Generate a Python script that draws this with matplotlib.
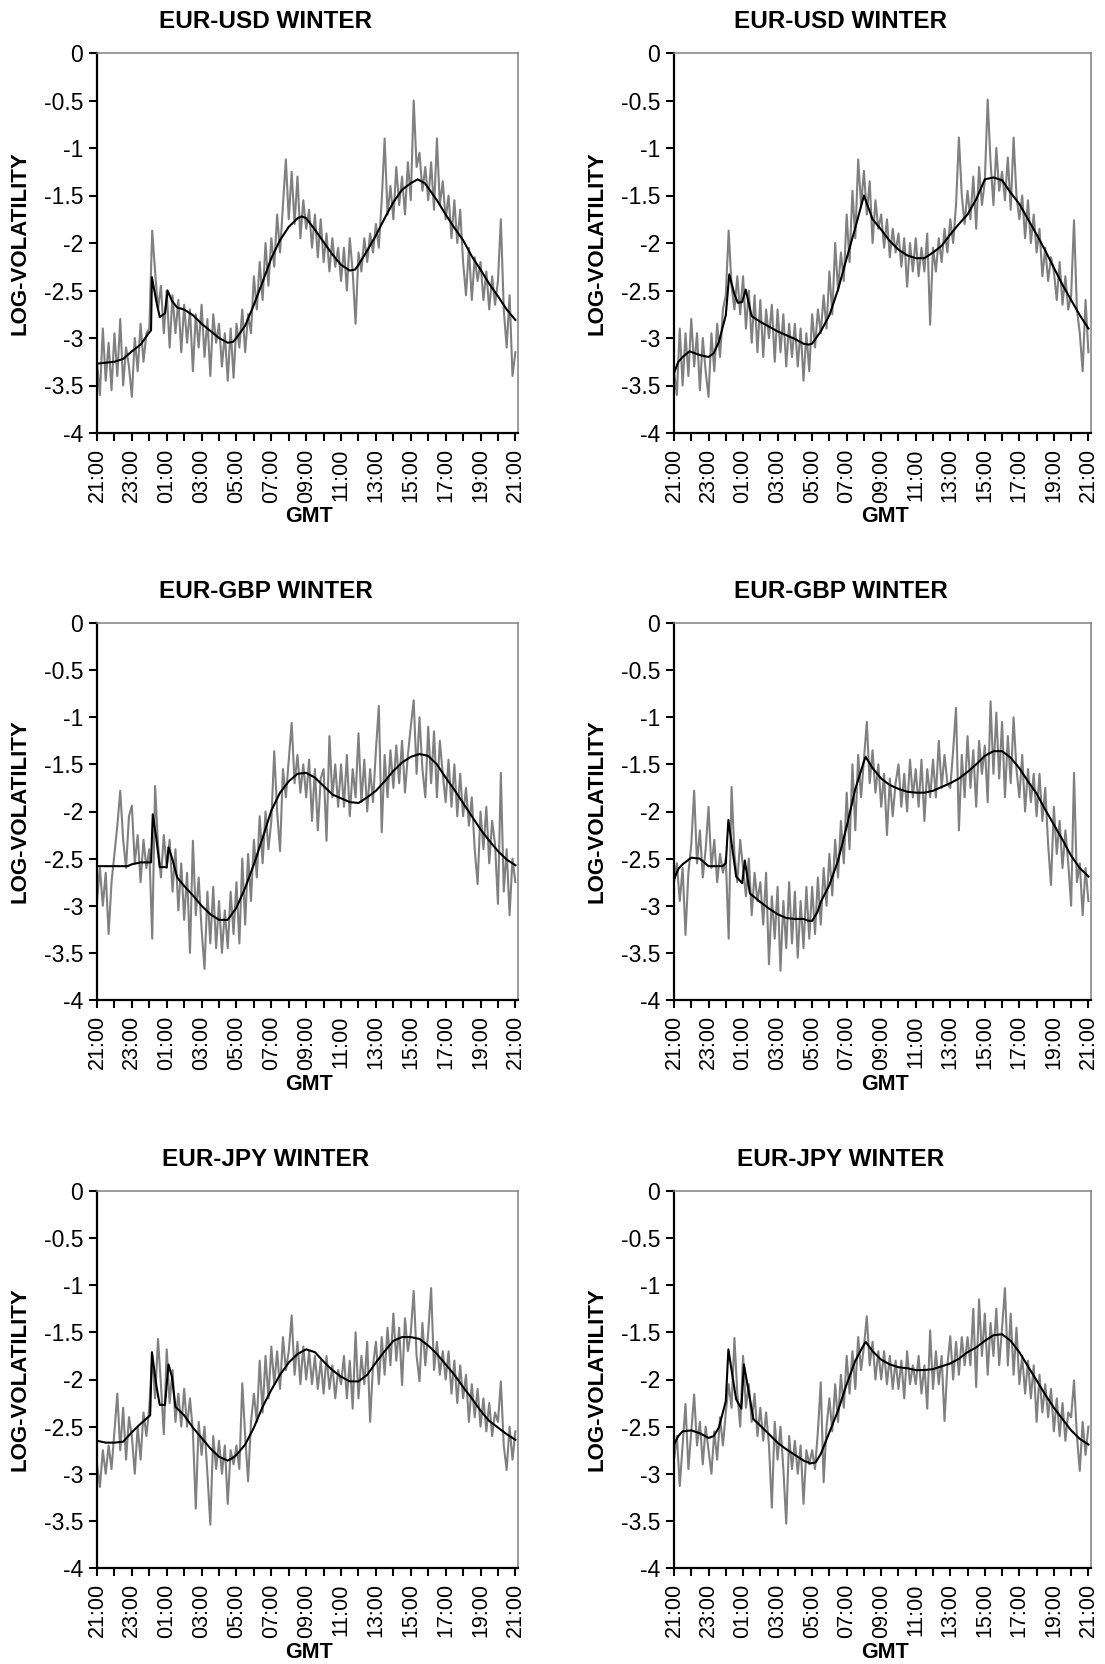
import numpy as np
import matplotlib
matplotlib.use("Agg")
import matplotlib.pyplot as plt

plt.rcParams["font.family"] = ["Liberation Sans", "DejaVu Sans"]
plt.rcParams["axes.unicode_minus"] = False

# hours after 21:00 GMT
TICK_HOURS = list(range(0, 25))
TICK_LABELS = ["21:00", "23:00", "01:00", "03:00", "05:00", "07:00", "09:00",
               "11:00", "13:00", "15:00", "17:00", "19:00", "21:00"]
Y_TICKS = [0, -0.5, -1, -1.5, -2, -2.5, -3, -3.5, -4]

TITLES = ["EUR-USD WINTER", "EUR-USD WINTER",
          "EUR-GBP WINTER", "EUR-GBP WINTER",
          "EUR-JPY WINTER", "EUR-JPY WINTER"]

# gray = raw 10-minute log-volatility (one row per hour), black = fitted curve

# ---- EUR-USD, left ----
USD_L_GRAY = [
    -3.25, -3.60, -2.90, -3.45, -3.05, -3.55,
    -2.95, -3.40, -2.80, -3.50, -3.10, -3.30,
    -3.62, -3.00, -3.35, -2.85, -3.25, -2.95,
    -2.90, -1.87, -2.30, -2.70, -2.45, -2.95,
    -2.50, -3.10, -2.55, -2.95, -2.60, -3.15,
    -2.65, -3.05, -2.70, -3.35, -2.75, -3.10,
    -2.65, -3.20, -2.80, -3.40, -2.75, -3.05,
    -2.85, -3.30, -2.95, -3.45, -2.90, -3.42,
    -2.85, -3.10, -2.70, -3.15, -2.75, -2.95,
    -2.35, -2.70, -2.20, -2.60, -2.00, -2.45,
    -1.95, -2.25, -1.70, -2.10, -1.60, -1.12,
    -1.75, -1.25, -1.80, -1.30, -1.95, -1.55,
    -1.85, -1.65, -2.05, -1.70, -2.15, -1.75,
    -2.20, -1.90, -2.30, -1.95, -2.25, -2.05,
    -2.40, -2.05, -2.50, -1.95, -2.30, -2.85,
    -2.10, -2.30, -1.95, -2.20, -1.90, -2.10,
    -1.80, -2.05, -1.55, -0.90, -1.70, -1.40,
    -1.75, -1.20, -1.60, -1.30, -1.70, -1.15,
    -1.55, -0.50, -1.20, -1.05, -1.45, -1.20,
    -1.55, -1.15, -1.65, -0.90, -1.60, -1.35,
    -1.75, -1.50, -1.95, -1.55, -2.00, -1.65,
    -2.20, -2.55, -2.05, -2.60, -2.15, -2.40,
    -2.20, -2.60, -2.30, -2.70, -2.35, -2.65,
    -2.40, -1.75, -2.70, -3.10, -2.55, -3.40,
    -3.15]
USD_L_FIT_H = [0, 0.5, 1, 1.5, 2, 2.5, 3, 3.1, 3.15, 3.4, 3.6, 3.9, 4.05, 4.3, 4.6, 5,
               5.5, 6, 7, 7.5, 7.8, 8, 8.5, 9, 9.5, 10, 10.5, 11, 11.5, 11.75, 12,
               12.5, 13, 13.5, 14, 14.5, 14.8, 15, 15.5, 16, 16.5, 17, 17.5, 18, 18.4,
               18.8, 19, 19.5, 20, 20.5, 21, 21.5, 22, 22.5, 23, 23.5, 24]
USD_L_FIT = [-3.27, -3.26, -3.25, -3.22, -3.14, -3.07, -2.94, -2.92, -2.36, -2.61,
             -2.78, -2.74, -2.50, -2.61, -2.68, -2.70, -2.76, -2.85, -3.00, -3.05,
             -3.04, -3.00, -2.87, -2.65, -2.41, -2.16, -1.97, -1.83, -1.74, -1.72,
             -1.74, -1.86, -1.99, -2.12, -2.23, -2.29, -2.28, -2.23, -2.08, -1.92,
             -1.74, -1.57, -1.44, -1.37, -1.33, -1.37, -1.42, -1.55, -1.70, -1.84,
             -1.97, -2.14, -2.28, -2.43, -2.56, -2.70, -2.81]

# ---- EUR-USD, right ----
USD_R_GRAY = [
    -3.35, -3.60, -2.90, -3.50, -2.95, -3.40,
    -2.80, -3.30, -2.95, -3.55, -3.00, -3.35,
    -3.62, -2.95, -3.35, -2.85, -3.20, -2.70,
    -2.55, -1.87, -2.45, -2.70, -2.35, -2.75,
    -2.35, -2.90, -2.50, -3.05, -2.55, -3.15,
    -2.60, -3.20, -2.70, -3.00, -2.65, -3.25,
    -2.70, -3.15, -2.75, -3.30, -2.85, -3.20,
    -2.85, -3.30, -2.90, -3.45, -2.95, -3.35,
    -2.75, -3.10, -2.70, -2.95, -2.55, -2.90,
    -2.30, -2.75, -2.00, -2.50, -2.10, -2.40,
    -1.70, -2.20, -1.45, -1.95, -1.12, -1.60,
    -1.24, -1.70, -1.35, -2.00, -1.55, -1.85,
    -1.70, -2.05, -1.75, -2.15, -1.85, -2.10,
    -1.90, -2.25, -1.95, -2.46, -2.00, -2.30,
    -1.95, -2.35, -2.05, -2.30, -1.90, -2.86,
    -2.05, -2.30, -1.95, -2.20, -1.85, -2.10,
    -1.75, -2.00, -1.60, -0.89, -1.50, -1.80,
    -1.45, -1.75, -1.30, -1.85, -1.20, -1.60,
    -1.35, -0.49, -1.15, -1.60, -1.00, -1.45,
    -1.25, -1.55, -1.10, -1.65, -0.89, -1.50,
    -1.75, -1.50, -1.95, -1.55, -2.00, -1.70,
    -2.10, -1.85, -2.35, -2.05, -2.40, -2.15,
    -2.30, -2.60, -2.20, -2.65, -2.35, -2.70,
    -2.55, -1.76, -2.70, -2.95, -3.35, -2.60,
    -3.15]
USD_R_FIT_H = [0, 0.25, 0.5, 0.9, 1.5, 2, 2.3, 2.6, 3, 3.2, 3.5, 3.7, 3.95, 4.15, 4.5,
               5, 6, 7, 7.5, 7.8, 8, 8.5, 9, 9.5, 10, 10.5, 11, 11.5, 12, 12.5, 13,
               13.5, 14, 14.5, 15, 15.5, 16, 16.5, 17, 17.5, 18, 18.5, 19, 19.5, 20,
               20.5, 21, 21.5, 22, 22.5, 23, 23.5, 24]
USD_R_FIT = [-3.37, -3.25, -3.20, -3.14, -3.18, -3.20, -3.16, -3.04, -2.76, -2.33,
             -2.54, -2.63, -2.62, -2.49, -2.77, -2.83, -2.93, -3.01, -3.06, -3.07,
             -3.06, -2.93, -2.76, -2.49, -2.16, -1.84, -1.50, -1.75, -1.86, -1.98,
             -2.07, -2.13, -2.16, -2.16, -2.10, -2.03, -1.91, -1.80, -1.70, -1.54,
             -1.33, -1.31, -1.34, -1.47, -1.59, -1.75, -1.91, -2.08, -2.26, -2.44,
             -2.60, -2.76, -2.90]

# ---- EUR-GBP, left ----
GBP_L_GRAY = [
    -2.95, -2.60, -3.00, -2.65, -3.30, -2.75,
    -2.45, -2.15, -1.78, -2.30, -2.60, -2.05,
    -1.94, -2.55, -2.25, -2.75, -2.30, -2.60,
    -2.40, -3.35, -1.73, -2.35, -2.70, -2.25,
    -2.60, -2.30, -2.85, -2.40, -3.05, -2.55,
    -3.15, -2.65, -3.50, -2.31, -3.10, -2.70,
    -3.25, -3.67, -2.85, -3.40, -2.80, -3.45,
    -2.95, -3.50, -3.05, -3.45, -2.85, -3.30,
    -2.75, -3.40, -2.50, -3.20, -2.45, -2.95,
    -2.30, -2.70, -2.05, -2.55, -2.00, -2.40,
    -2.10, -1.36, -2.00, -2.42, -1.55, -1.85,
    -1.45, -1.06, -1.70, -1.40, -1.80, -1.50,
    -1.85, -1.45, -2.10, -1.55, -2.20, -1.65,
    -1.55, -2.31, -1.20, -1.85, -1.50, -1.95,
    -1.50, -1.95, -1.40, -2.05, -1.55, -1.85,
    -1.17, -1.90, -1.45, -2.00, -1.55, -1.90,
    -1.35, -0.88, -2.22, -1.40, -1.85, -1.35,
    -1.75, -1.30, -1.70, -1.25, -1.80, -1.40,
    -1.10, -0.82, -1.60, -1.00, -1.55, -1.85,
    -1.10, -1.70, -1.15, -1.85, -1.25, -1.60,
    -1.90, -1.45, -1.95, -1.50, -2.05, -1.60,
    -2.05, -1.75, -2.15, -1.85, -2.40, -2.77,
    -2.00, -2.40, -1.95, -2.55, -2.10, -2.35,
    -2.98, -1.59, -2.85, -2.40, -3.10, -2.50,
    -2.75]
GBP_L_FIT_H = [0, 1, 1.75, 2, 2.5, 3.1, 3.2, 3.4, 3.6, 4.0, 4.1, 4.3, 4.6, 5, 5.5, 6,
               6.5, 7, 7.5, 8, 8.5, 9, 9.5, 10, 10.5, 11, 11.5, 12, 12.5, 13, 13.5,
               14, 14.5, 15, 15.5, 16, 16.5, 17, 17.5, 18, 18.5, 19, 19.5, 20, 20.5,
               21, 21.5, 22, 22.5, 23, 23.5, 24]
GBP_L_FIT = [-2.58, -2.58, -2.58, -2.56, -2.54, -2.54, -2.03, -2.28, -2.59, -2.59,
             -2.38, -2.49, -2.70, -2.79, -2.89, -3.00, -3.09, -3.15, -3.15, -3.02,
             -2.81, -2.56, -2.28, -1.99, -1.80, -1.68, -1.60, -1.59, -1.64, -1.73,
             -1.82, -1.86, -1.90, -1.91, -1.85, -1.78, -1.68, -1.57, -1.48, -1.42,
             -1.39, -1.41, -1.50, -1.64, -1.77, -1.91, -2.05, -2.19, -2.31, -2.42,
             -2.51, -2.57]

# ---- EUR-GBP, right ----
GBP_R_GRAY = [
    -2.75, -2.55, -2.95, -2.60, -3.31, -2.65,
    -2.35, -1.78, -2.55, -2.20, -2.70, -2.40,
    -1.95, -2.60, -2.30, -2.75, -2.45, -2.65,
    -2.50, -3.35, -1.74, -2.45, -2.75, -2.30,
    -2.60, -2.90, -2.50, -3.10, -2.65, -2.95,
    -2.75, -3.20, -2.65, -3.62, -2.90, -3.35,
    -2.80, -3.69, -2.95, -3.45, -2.75, -3.40,
    -2.85, -3.55, -2.95, -3.45, -2.80, -3.35,
    -2.80, -3.30, -2.70, -3.20, -2.60, -3.00,
    -2.45, -2.89, -2.30, -2.70, -2.10, -2.55,
    -1.80, -2.40, -1.50, -2.20, -1.40, -1.85,
    -1.45, -1.05, -1.70, -1.35, -1.80, -1.50,
    -1.95, -1.60, -2.25, -1.65, -2.05, -1.70,
    -1.50, -1.95, -1.60, -2.00, -1.45, -1.85,
    -1.55, -1.95, -1.45, -2.10, -1.55, -1.85,
    -1.45, -1.85, -1.25, -1.75, -1.40, -1.70,
    -1.75, -1.35, -0.90, -2.20, -1.40, -1.85,
    -1.20, -1.75, -1.35, -1.95, -1.25, -1.60,
    -1.30, -1.90, -0.83, -1.60, -0.95, -1.65,
    -1.05, -1.85, -1.20, -1.70, -1.00, -1.55,
    -1.85, -1.40, -2.00, -1.55, -1.90, -1.60,
    -2.05, -1.60, -2.10, -1.75, -2.35, -2.78,
    -1.95, -2.45, -2.10, -2.60, -2.20, -2.55,
    -3.00, -1.59, -2.75, -2.55, -3.10, -2.60,
    -2.95]
GBP_R_FIT_H = [0, 0.25, 0.5, 1, 1.5, 2, 2.5, 2.8, 3.0, 3.15, 3.6, 3.95, 4.1, 4.4, 5,
               5.5, 6, 6.5, 7, 7.5, 7.8, 8, 8.3, 8.5, 9, 9.5, 10, 10.5, 11, 11.1,
               11.5, 12, 12.5, 13, 13.5, 14, 14.5, 15, 15.5, 16, 16.5, 17, 17.5, 18,
               18.5, 19, 19.5, 20, 20.5, 21, 21.5, 22, 22.5, 23, 23.5, 24]
GBP_R_FIT = [-2.72, -2.61, -2.56, -2.49, -2.50, -2.58, -2.58, -2.58, -2.55, -2.09,
             -2.69, -2.76, -2.52, -2.87, -2.96, -3.03, -3.09, -3.13, -3.14, -3.14,
             -3.16, -3.16, -3.07, -2.96, -2.78, -2.52, -2.16, -1.76, -1.47, -1.42,
             -1.54, -1.65, -1.72, -1.76, -1.79, -1.80, -1.80, -1.78, -1.74, -1.70,
             -1.65, -1.58, -1.50, -1.41, -1.36, -1.36, -1.43, -1.54, -1.68, -1.81,
             -1.98, -2.14, -2.30, -2.47, -2.60, -2.69]

# ---- EUR-JPY, left ----
JPY_L_GRAY = [
    -2.90, -3.14, -2.75, -3.00, -2.70, -2.95,
    -2.55, -2.15, -2.75, -2.30, -2.85, -2.40,
    -2.60, -3.00, -2.50, -2.85, -2.35, -2.60,
    -2.30, -1.75, -2.20, -1.57, -2.05, -2.58,
    -1.68, -2.25, -1.90, -2.45, -2.15, -2.50,
    -2.10, -2.50, -2.20, -2.55, -3.37, -2.45,
    -2.80, -2.50, -3.00, -3.54, -2.60, -2.95,
    -2.65, -3.00, -2.70, -3.32, -2.75, -2.90,
    -2.70, -2.95, -2.04, -2.60, -3.08, -2.45,
    -2.15, -2.45, -1.80, -2.35, -1.75, -2.20,
    -1.65, -2.05, -1.70, -2.10, -1.55, -1.90,
    -1.70, -1.32, -1.95, -1.60, -2.05, -1.65,
    -2.00, -1.70, -2.05, -1.75, -2.10, -1.80,
    -2.15, -1.75, -2.10, -1.85, -2.20, -1.90,
    -2.05, -1.75, -2.20, -1.80, -2.31, -1.50,
    -2.20, -1.75, -2.05, -1.60, -2.45, -1.85,
    -1.60, -2.05, -1.55, -1.95, -1.45, -1.85,
    -1.30, -1.80, -1.45, -2.06, -1.35, -1.70,
    -1.50, -1.06, -1.75, -2.02, -1.40, -1.85,
    -1.50, -1.03, -1.90, -1.60, -1.95, -1.70,
    -2.00, -1.70, -2.15, -1.80, -2.25, -1.85,
    -2.20, -1.95, -2.45, -2.05, -2.40, -2.10,
    -2.50, -2.20, -2.55, -2.25, -2.60, -2.35,
    -2.45, -2.02, -2.70, -2.96, -2.50, -2.85,
    -2.55]
JPY_L_FIT_H = [0, 0.5, 1, 1.5, 2, 2.5, 3.05, 3.15, 3.4, 3.6, 3.9, 4.1, 4.3, 4.5, 5,
               5.5, 6, 6.5, 7, 7.5, 7.8, 8, 8.5, 9, 9.5, 10, 10.5, 11, 11.5, 12,
               12.5, 13, 13.5, 14, 14.5, 15, 15.5, 16, 16.5, 17, 17.5, 18, 18.5, 19,
               19.5, 20, 20.5, 21, 21.5, 22, 22.5, 23, 23.5, 24]
JPY_L_FIT = [-2.65, -2.67, -2.67, -2.66, -2.56, -2.47, -2.38, -1.71, -2.06, -2.27,
             -2.27, -1.84, -1.97, -2.29, -2.38, -2.51, -2.62, -2.73, -2.82, -2.86,
             -2.83, -2.80, -2.69, -2.51, -2.29, -2.11, -1.95, -1.82, -1.73, -1.68,
             -1.71, -1.81, -1.90, -1.97, -2.02, -2.02, -1.95, -1.82, -1.70, -1.59,
             -1.55, -1.55, -1.57, -1.64, -1.73, -1.84, -1.95, -2.08, -2.20, -2.33,
             -2.44, -2.51, -2.58, -2.64]

# ---- EUR-JPY, right ----
JPY_R_GRAY = [
    -2.85, -2.60, -3.13, -2.70, -2.26, -2.95,
    -2.55, -2.16, -2.70, -2.45, -2.90, -2.50,
    -2.75, -3.00, -2.55, -2.85, -2.40, -2.70,
    -2.35, -2.05, -2.30, -1.56, -2.15, -2.50,
    -1.75, -2.30, -2.05, -2.45, -2.15, -2.60,
    -2.30, -2.65, -2.35, -2.70, -3.36, -2.45,
    -2.85, -2.50, -2.95, -3.53, -2.60, -2.95,
    -2.65, -3.00, -2.70, -3.32, -2.75, -2.90,
    -2.75, -2.95, -2.55, -2.03, -3.09, -2.50,
    -2.20, -2.55, -2.05, -2.45, -1.95, -2.30,
    -1.75, -2.15, -1.70, -2.10, -1.55, -1.90,
    -1.65, -1.33, -1.85, -1.60, -2.00, -1.70,
    -2.00, -1.70, -2.05, -1.75, -2.10, -1.80,
    -2.10, -1.80, -2.20, -1.70, -2.05, -1.85,
    -2.05, -1.75, -2.15, -1.85, -2.31, -1.48,
    -2.10, -1.70, -2.05, -1.75, -2.44, -1.85,
    -1.54, -2.00, -1.60, -1.95, -1.55, -1.85,
    -1.55, -1.85, -1.25, -2.08, -1.15, -1.75,
    -1.30, -1.95, -1.40, -1.75, -1.25, -1.85,
    -1.45, -1.03, -1.85, -1.30, -1.95, -1.45,
    -2.05, -1.75, -2.15, -1.80, -2.20, -1.85,
    -2.45, -1.95, -2.35, -2.05, -2.40, -2.10,
    -2.55, -2.20, -2.60, -2.25, -2.65, -2.35,
    -2.40, -2.01, -2.60, -2.97, -2.45, -2.80,
    -2.50]
JPY_R_FIT_H = [0, 0.25, 0.5, 1, 1.5, 2, 2.3, 2.6, 3, 3.15, 3.4, 3.6, 3.9, 4.05, 4.6, 5,
               5.5, 6, 6.5, 7, 7.5, 7.9, 8.2, 8.5, 9, 9.5, 10, 10.5, 11, 11.1, 11.5,
               12, 12.5, 13, 13.5, 14, 14.5, 15, 15.5, 16, 16.5, 17, 17.5, 18, 18.5,
               19, 19.5, 20, 20.5, 21, 21.5, 22, 22.5, 23, 23.5, 24]
JPY_R_FIT = [-2.69, -2.60, -2.55, -2.54, -2.57, -2.62, -2.60, -2.51, -2.23, -1.68,
             -1.98, -2.21, -2.31, -1.84, -2.42, -2.49, -2.58, -2.67, -2.74, -2.80,
             -2.86, -2.89, -2.88, -2.79, -2.56, -2.33, -2.05, -1.80, -1.63, -1.60,
             -1.70, -1.79, -1.84, -1.87, -1.88, -1.90, -1.90, -1.89, -1.86, -1.83,
             -1.78, -1.71, -1.66, -1.59, -1.53, -1.52, -1.59, -1.71, -1.86, -2.01,
             -2.16, -2.30, -2.42, -2.54, -2.63, -2.69]

GRAYS = [USD_L_GRAY, USD_R_GRAY, GBP_L_GRAY, GBP_R_GRAY, JPY_L_GRAY, JPY_R_GRAY]
FITS = [(USD_L_FIT_H, USD_L_FIT), (USD_R_FIT_H, USD_R_FIT),
        (GBP_L_FIT_H, GBP_L_FIT), (GBP_R_FIT_H, GBP_R_FIT),
        (JPY_L_FIT_H, JPY_L_FIT), (JPY_R_FIT_H, JPY_R_FIT)]

W, H = 1105, 1664
# axes boxes in pixels
COL_X = [(97, 518), (674, 1091)]
ROW_Y = [(53, 433), (623, 1000), (1191, 1568)]


def main():
    fig = plt.figure(figsize=(W / 100, H / 100), dpi=100)
    fig.patch.set_facecolor("white")

    for i in range(6):
        r, c = divmod(i, 2)
        x0, x1 = COL_X[c]
        y0, y1 = ROW_Y[r]
        ax = fig.add_axes([x0 / W, 1 - y1 / H, (x1 - x0) / W, (y1 - y0) / H])

        g = GRAYS[i]
        gx = np.linspace(0, 24, len(g))
        ax.plot(gx, g, color="#808080", lw=1.5)
        fh, fv = FITS[i]
        ax.plot(fh, fv, color="black", lw=1.5)

        ax.set_xlim(0, 24.15)
        ax.set_ylim(-4, 0)
        ax.set_yticks(Y_TICKS)
        ax.set_yticklabels(["%g" % v for v in Y_TICKS], fontsize=16.5)
        ax.set_xticks(TICK_HOURS)
        labels = [TICK_LABELS[h // 2] if h % 2 == 0 else "" for h in TICK_HOURS]
        ax.set_xticklabels(labels, rotation=90, fontsize=15.5)
        ax.tick_params(axis="x", direction="out", length=6, width=1.5, pad=5)
        ax.tick_params(axis="y", direction="out", length=6, width=1.5, pad=4)

        for s in ["left", "bottom"]:
            ax.spines[s].set_color("black")
            ax.spines[s].set_linewidth(1.6)
        for s in ["top", "right"]:
            ax.spines[s].set_color("#808080")
            ax.spines[s].set_linewidth(1.1)

        cx = (x0 + x1) / 2
        fig.text((cx - 42) / W, 1 - (y0 - 32) / H, TITLES[i], ha="center",
                 va="center", fontsize=17.5, fontweight="bold")
        fig.text((cx + 2) / W, 1 - (y1 + 84) / H, "GMT", ha="center",
                 va="center", fontsize=15.5, fontweight="bold")
        fig.text((x0 - 77) / W, 1 - ((y0 + y1) / 2) / H, "LOG-VOLATILITY",
                 ha="center", va="center", rotation=90, fontsize=16,
                 fontweight="bold")

    fig.savefig("out.png", dpi=100)
    plt.close(fig)


if __name__ == "__main__":
    main()
